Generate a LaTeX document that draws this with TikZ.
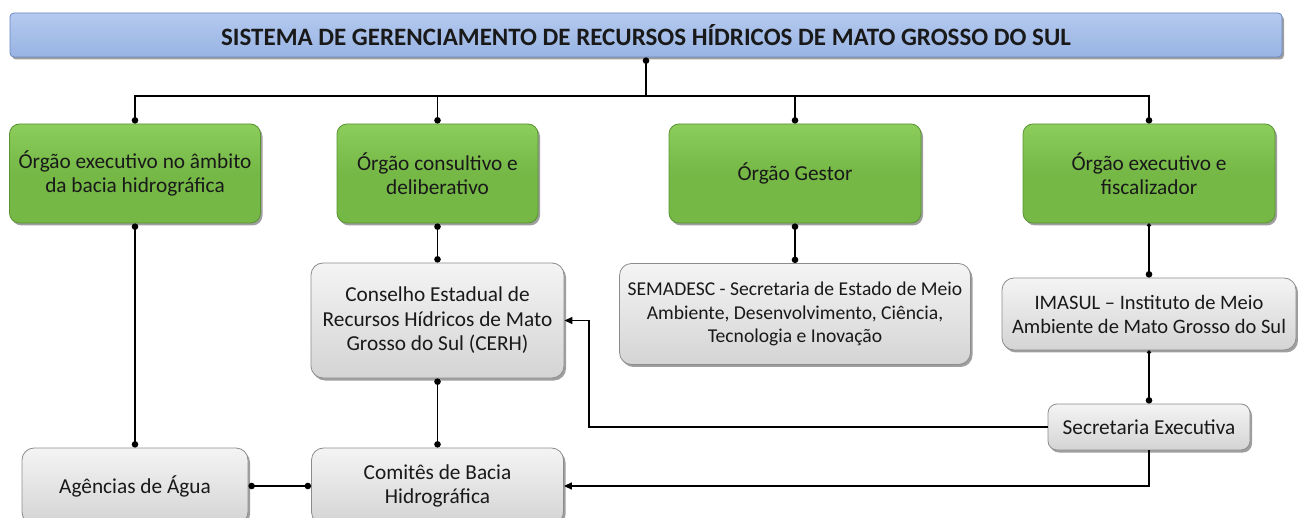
\documentclass[tikz,border=0pt]{standalone}
\usepackage{fontspec}
\setmainfont{Carlito}
\usetikzlibrary{shadows,arrows.meta,positioning}
\definecolor{gfill}{RGB}{117,184,70}
\definecolor{gtop}{RGB}{140,205,92}
\definecolor{gborder}{RGB}{88,148,48}
\definecolor{grfill}{RGB}{212,212,212}
\definecolor{grtop}{RGB}{244,244,244}
\definecolor{grborder}{RGB}{140,140,140}
\definecolor{bfill}{RGB}{152,180,228}
\definecolor{btop}{RGB}{180,201,238}
\definecolor{bborder}{RGB}{105,135,192}
\tikzset{
  x=1pt, y=-1pt,
  box/.style={rounded corners=10pt, align=center, inner sep=2pt,
    font=\fontsize{21.3}{24.5}\selectfont, text=black!90,
    drop shadow={shadow xshift=2pt, shadow yshift=-2.5pt, opacity=0.5, fill=black!75}},
  greenbox/.style={box, top color=gtop, bottom color=gfill, middle color=gfill, draw=gborder, line width=0.8pt},
  greybox/.style={box, top color=grtop, bottom color=grfill, draw=grborder, line width=0.8pt, rounded corners=12pt},
  titlebox/.style={rounded corners=4pt, top color=btop, bottom color=bfill, draw=bborder, line width=0.8pt,
    font=\fontsize{25}{28}\selectfont\bfseries, text=black!90,
    drop shadow={shadow xshift=2pt, shadow yshift=-2.5pt, opacity=0.5, fill=black!75}},
  conn/.style={line width=1.4pt, black},
  dots/.style={conn, {Circle[length=6.5pt]}-{Circle[length=6.5pt]}},
  enddot/.style={conn, -{Circle[length=6.5pt]}},
  startdot/.style={conn, {Circle[length=6.5pt]}-},
  arr/.style={conn, -{Triangle[length=8pt,width=7pt]}},
}
\begin{document}
\begin{tikzpicture}
\useasboundingbox[fill=white] (0,0) rectangle (1298,518);
% title
\node[titlebox, minimum width=1272pt, minimum height=44pt] (title) at (646,35) {SISTEMA DE GERENCIAMENTO DE RECURSOS HÍDRICOS DE MATO GROSSO DO SUL};
% green boxes
\node[greenbox, minimum width=251pt, minimum height=99pt] (g1) at (135,173.5) {Órgão executivo no âmbito\\da bacia hidrográfica};
\node[greenbox, minimum width=201pt, minimum height=99pt] (g2) at (437.5,173.5) {Órgão consultivo e\\deliberativo};
\node[greenbox, minimum width=252pt, minimum height=99pt] (g3) at (795,173.5) {Órgão Gestor};
\node[greenbox, minimum width=252pt, minimum height=99pt] (g4) at (1149,173.5) {Órgão executivo e\\fiscalizador};
% grey boxes
\node[greybox, minimum width=253pt, minimum height=115pt] (cerh) at (437.5,320.5) {Conselho Estadual de\\Recursos Hídricos de Mato\\Grosso do Sul (CERH)};
\node[greybox, minimum width=351pt, minimum height=101pt, font=\fontsize{19.6}{23.5}\selectfont] (sem) at (795,314) {SEMADESC - Secretaria de Estado de Meio\\Ambiente, Desenvolvimento, Ciência,\\Tecnologia e Inovação};
\node[greybox, minimum width=294pt, minimum height=72pt, font=\fontsize{20.5}{24}\selectfont] (ima) at (1149,314) {IMASUL -- Instituto de Meio\\Ambiente de Mato Grosso do Sul};
\node[greybox, minimum width=202pt, minimum height=46pt, rounded corners=9pt] (sec) at (1149,427) {Secretaria Executiva};
\node[greybox, minimum width=226pt, minimum height=76pt] (ag) at (135,486) {Agências de Água};
\node[greybox, minimum width=252pt, minimum height=76pt] (com) at (437.5,486) {Comitês de Bacia\\Hidrográfica};
% connectors
\coordinate (bus) at (646,96);
\coordinate (bend) at (589,427);
\draw[startdot] (title.south) -- (bus);
\draw[enddot] (bus) -| (g1.north);
\draw[enddot] (bus) -| (g2.north);
\draw[enddot] (bus) -| (g3.north);
\draw[enddot] (bus) -| (g4.north);
\draw[dots] (g1.south) -- (ag.north);
\draw[dots] (g2.south) -- (cerh.north);
\draw[dots] (cerh.south) -- (com.north);
\draw[dots] (g3.south) -- (sem.north);
\draw[conn, {Circle[length=4pt]}-{Circle[length=6.5pt]}] (g4.south) -- (ima.north);
\draw[conn, {Circle[length=4pt]}-{Circle[length=6.5pt]}] (ima.south) -- (sec.north);
\draw[dots] (ag.east) -- (com.west);
\draw[arr] (sec.west) -- (bend) |- (cerh.east);
\draw[arr] (sec.south) |- (com.east);
\end{tikzpicture}
\end{document}
